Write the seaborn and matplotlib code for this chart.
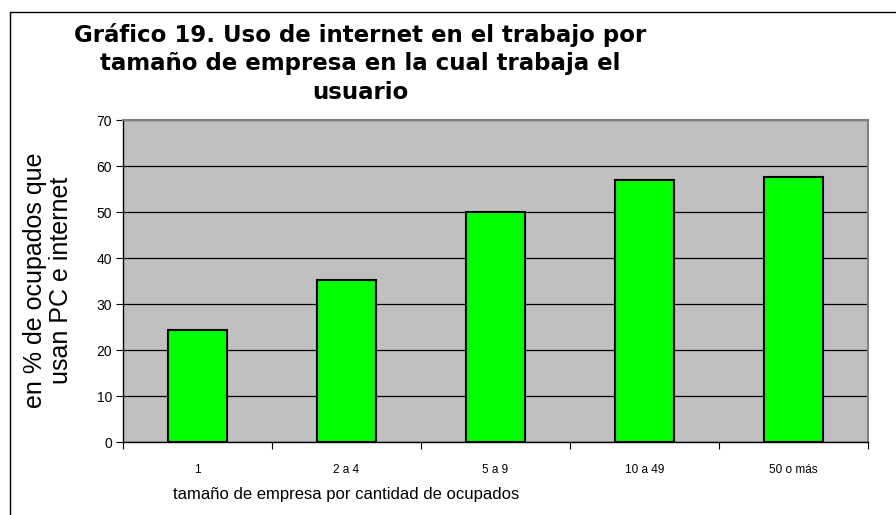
import seaborn as sns
import matplotlib.pyplot as plt
import pandas as pd
from matplotlib.lines import Line2D
from matplotlib.ticker import FixedLocator

categorias = ["1", "2 a 4", "5 a 9", "10 a 49", "50 o más"]
porcentaje = [24.3, 35.2, 50.0, 57.0, 57.6]
yticks = [0, 10, 20, 30, 40, 50, 60, 70]

df = pd.DataFrame({"tamano": categorias, "pct": porcentaje})

sns.set_style("white")
plt.rcParams["font.family"] = ["Liberation Sans", "DejaVu Sans"]
plt.rcParams["text.color"] = "black"
plt.rcParams["xtick.color"] = "black"
plt.rcParams["ytick.color"] = "black"
narrow = ["Liberation Sans Narrow", "Liberation Sans", "DejaVu Sans"]

fig = plt.figure(figsize=(8.96, 5.15), dpi=100)
ax = fig.add_axes([123 / 896, 73 / 515, 745 / 896, 322 / 515])
ax.set_facecolor("#C0C0C0")

sns.barplot(data=df, x="tamano", y="pct", color="#00FF00", edgecolor="black",
            linewidth=1.5, width=0.4, saturation=1, ax=ax, zorder=3)

ax.set_ylim(0, 70)
ax.set_xlim(-0.5, 4.5)
ax.set_yticks(yticks)
ax.yaxis.grid(True, color="black", linewidth=0.9, zorder=1)
ax.set_axisbelow(True)
ax.tick_params(axis="y", length=5, width=0.8, color="black", labelsize=10,
               pad=3, left=True, labelcolor="black")
ax.tick_params(axis="x", which="major", length=0, pad=16, labelcolor="black")
ax.xaxis.set_minor_locator(FixedLocator([-0.5, 0.5, 1.5, 2.5, 3.5, 4.5]))
ax.tick_params(axis="x", which="minor", length=5, width=0.8, color="black",
               bottom=True)
for lbl in ax.get_xticklabels():
    lbl.set_family(narrow)
    lbl.set_fontsize(8.5)

ax.set_xlabel("")
ax.set_ylabel("")
for s in ["left", "bottom"]:
    ax.spines[s].set_color("black")
    ax.spines[s].set_linewidth(1)
for s in ["top", "right"]:
    ax.spines[s].set_color("#808080")
    ax.spines[s].set_linewidth(1.5)

fig.text(48 / 896, 0.455, "en % de ocupados que\nusan PC e internet",
         rotation=90, ha="center", va="center", fontsize=18,
         multialignment="center", linespacing=1.15, color="black")
fig.text(346 / 896, 20 / 515, "tamaño de empresa por cantidad de ocupados",
         ha="center", va="center", fontsize=12, family=narrow,
         color="black")

fig.text(360 / 896, 1 - 23 / 515,
         "Gráfico 19. Uso de internet en el trabajo por\n"
         "tamaño de empresa en la cual trabaja el\nusuario",
         ha="center", va="top", fontsize=16.5, fontweight="bold",
         family=["DejaVu Sans"], linespacing=1.3, color="black")

# marco exterior (izquierda y arriba)
fig.add_artist(Line2D([10 / 896, 10 / 896], [0, 1 - 12 / 515],
                      color="black", linewidth=1, transform=fig.transFigure))
fig.add_artist(Line2D([10 / 896, 1], [1 - 12 / 515, 1 - 12 / 515],
                      color="black", linewidth=1, transform=fig.transFigure))

fig.savefig("out.png", dpi=100)
